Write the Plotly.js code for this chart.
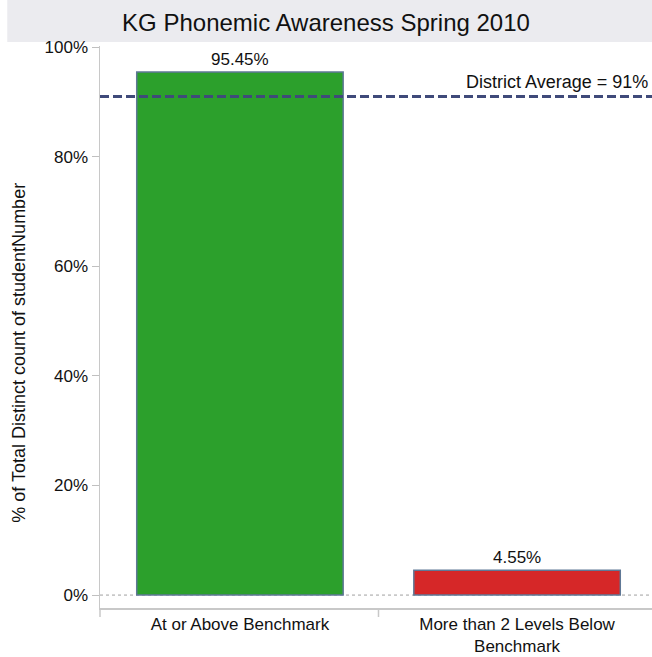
<!DOCTYPE html>
<html>
<head>
<meta charset="utf-8">
<script src="https://cdn.plot.ly/plotly-3.0.1.min.js"></script>
<style>
  body { margin: 0; background: #fff; }
  #chart1 { width: 652px; height: 657px; }
</style>
</head>
<body>
<div id="chart1"></div>
<script>
// data
var categories = ["At or Above Benchmark", "More than 2 Levels Below<br>Benchmark"]
var pctValues = [95.45, 4.55]
var barColors = ["#2ca02c", "#d62728"]
var districtAvg = 91
var yTicks = [0, 20, 40, 60, 80, 100]
var yTickLabels = ["0%", "20%", "40%", "60%", "80%", "100%"]

var font = "'Liberation Sans', Arial, sans-serif"

window.onload = function(){

    var bars = {
        type: 'bar',
        x: categories,
        y: pctValues,
        width: 0.745,
        marker: {color: barColors, line: {color: '#5f7896', width: 1.5}},
        hoverinfo: 'none'
    }

    // value labels over the bars
    var labels = categories.map(function(c, i){
        return {
            x: c, y: pctValues[i], xref: 'x', yref: 'y',
            text: pctValues[i].toFixed(2) + '%',
            showarrow: false, yanchor: 'bottom', yshift: 1,
            font: {family: font, size: 17, color: '#111'}
        }
    })
    labels.push({
        x: 1, xref: 'paper', y: districtAvg, yref: 'y',
        text: 'District Average = ' + districtAvg + '%',
        showarrow: false, xanchor: 'right', yanchor: 'bottom', yshift: 2, xshift: -2,
        font: {family: font, size: 18, color: '#111'}
    })
    // y axis title, drawn as annotation to place it like the original
    labels.push({
        x: -0.146, xref: 'paper', y: 0.455, yref: 'paper',
        text: '% of Total Distinct count of studentNumber', textangle: -90,
        showarrow: false, xanchor: 'center', yanchor: 'middle',
        font: {family: font, size: 18, color: '#111'}
    })

    var layout = {
        width: 652, height: 657,
        margin: {l: 100, r: 0, t: 46, b: 49},
        paper_bgcolor: '#fff', plot_bgcolor: '#fff',
        showlegend: false,
        font: {family: font, size: 17, color: '#111'},
        title: {
            text: 'KG Phonemic Awareness Spring 2010',
            x: 0.5, xanchor: 'center', xref: 'container',
            y: 0.966, yanchor: 'middle', yref: 'container',
            font: {family: font, size: 24, color: '#111'}
        },
        xaxis: {
            range: [-0.505, 1.487],
            showgrid: false, zeroline: false,
            showline: true, linecolor: '#c8c8c8', linewidth: 1.5,
            ticks: '', ticklabelstandoff: 0,
            tickfont: {family: font, size: 17, color: '#111'}
        },
        yaxis: {
            range: [-2.36, 100.2],
            tickmode: 'array', tickvals: yTicks, ticktext: yTickLabels,
            ticks: 'outside', ticklen: 7, tickcolor: '#c0c0c0',
            showgrid: false, zeroline: false,
            showline: true, linecolor: '#c8c8c8', linewidth: 1.5,
            tickfont: {family: font, size: 17, color: '#111'}
        },
        shapes: [
            // title band
            {type: 'rect', xref: 'paper', yref: 'paper', x0: -0.168, x1: 1.01, y0: 1.007, y1: 1.09,
             fillcolor: '#ebebef', line: {width: 0}, layer: 'below'},
            // zero line dotted
            {type: 'line', xref: 'paper', yref: 'y', x0: 0, x1: 1, y0: 0, y1: 0,
             line: {color: '#a0a0a0', width: 1, dash: 'dot'}, layer: 'below'},
            // axis line running below x axis
            {type: 'line', xref: 'paper', yref: 'paper', x0: 0, x1: 0, y0: 0, y1: -0.016,
             line: {color: '#c8c8c8', width: 1.5}},
            // category separator
            {type: 'line', xref: 'x', yref: 'paper', x0: 0.5, x1: 0.5, y0: 0, y1: -0.016,
             line: {color: '#c8c8c8', width: 1.5}},
            // district average
            {type: 'line', xref: 'paper', yref: 'y', x0: 0, x1: 1, y0: districtAvg, y1: districtAvg,
             line: {color: '#3f4a7a', width: 3, dash: '9px,4px'}}
        ],
        annotations: labels
    }

    Plotly.newPlot('chart1', [bars], layout, {staticPlot: true})
}
</script>
</body>
</html>
